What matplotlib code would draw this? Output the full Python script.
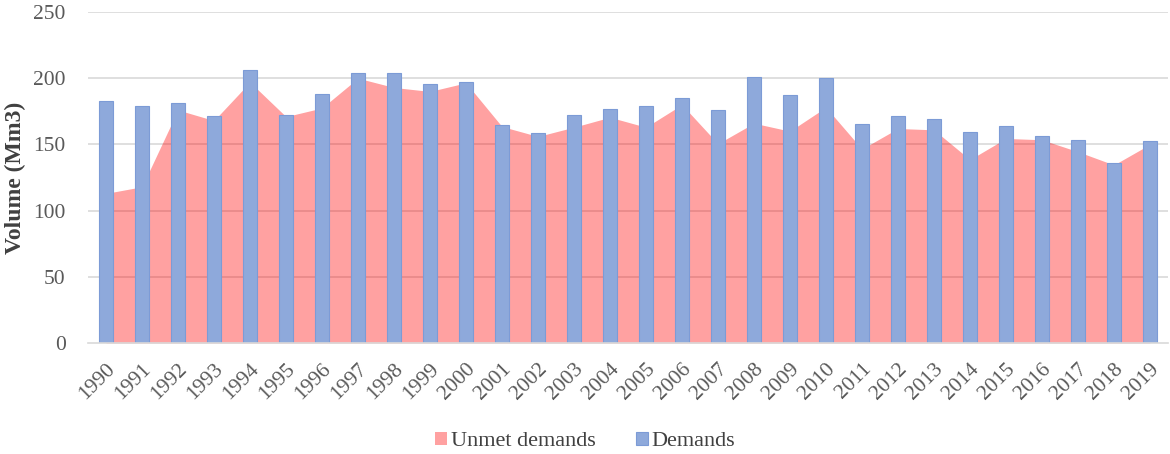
import numpy as np
import matplotlib
matplotlib.use("Agg")
import matplotlib.pyplot as plt

# 数据
years = list(range(1990, 2020))
demands = [182.5, 179, 181, 171.5, 206, 172, 188, 204, 204, 195.8,
           196.8, 164.8, 158.3, 172, 177, 179.3, 184.8, 175.8, 201, 187.5,
           200.3, 165.3, 171.3, 169.3, 159, 163.8, 156, 153, 135.8, 152.3]
unmet = [113, 118, 176, 168, 197, 171, 177.5, 200, 193, 190,
         196.5, 163.5, 156, 163, 170.5, 163, 180, 150.5, 166, 160,
         178, 146.5, 162, 161, 138.5, 154.5, 153.5, 144.5, 134.5, 150]
y_ticks = [0, 50, 100, 150, 200, 250]

plt.rcParams['font.family'] = ['Liberation Serif', 'DejaVu Serif']

fig = plt.figure(figsize=(11.7, 4.54), dpi=100)
ax = fig.add_axes([0.0752, 0.2445, 0.923, 0.7291])

x = np.arange(len(years))

# 面积图 (未满足需求)
ax.fill_between(x, 0, unmet, color='#FF0000', alpha=0.37, linewidth=0,
                zorder=1, label='Unmet demands')

# 柱状图 (需求)
ax.bar(x, demands, width=0.4, color='#8EA9DB', edgecolor='#7C9BD6',
       linewidth=0.8, zorder=2, label='Demands')

# 网格线
for yv in y_ticks[1:]:
    ax.axhline(yv, color='#D9D9D9', linewidth=1.2, zorder=0.5)

ax.set_xlim(-0.5, len(years) - 0.5)
ax.set_ylim(0, 250)
ax.set_yticks(y_ticks)
ax.set_xticks(x)
ax.set_xticklabels([str(y) for y in years], rotation=45, ha='right',
                   rotation_mode='anchor')

for s in ['top', 'right', 'left']:
    ax.spines[s].set_visible(False)
ax.spines['bottom'].set_color('#D9D9D9')
ax.spines['bottom'].set_linewidth(1.2)
ax.spines['bottom'].set_zorder(3)

ax.tick_params(axis='both', length=0, labelsize=15.5, colors='#595959')
ax.tick_params(axis='y', pad=16)
ax.tick_params(axis='x', pad=12)

ax.set_ylabel('Volume (Mm3)', fontsize=17, fontweight='bold', color='#404040')
ax.yaxis.set_label_coords(-0.057, 0.5)

handles, labels = ax.get_legend_handles_labels()
leg = fig.legend(handles, labels, loc='center', bbox_to_anchor=(0.5, 0.028),
                 ncol=2, frameon=False, fontsize=16, handlelength=0.55,
                 handleheight=0.55, handletextpad=0.15, columnspacing=1.8)
for t in leg.get_texts():
    t.set_color('#404040')

fig.savefig('out.png', dpi=100)
